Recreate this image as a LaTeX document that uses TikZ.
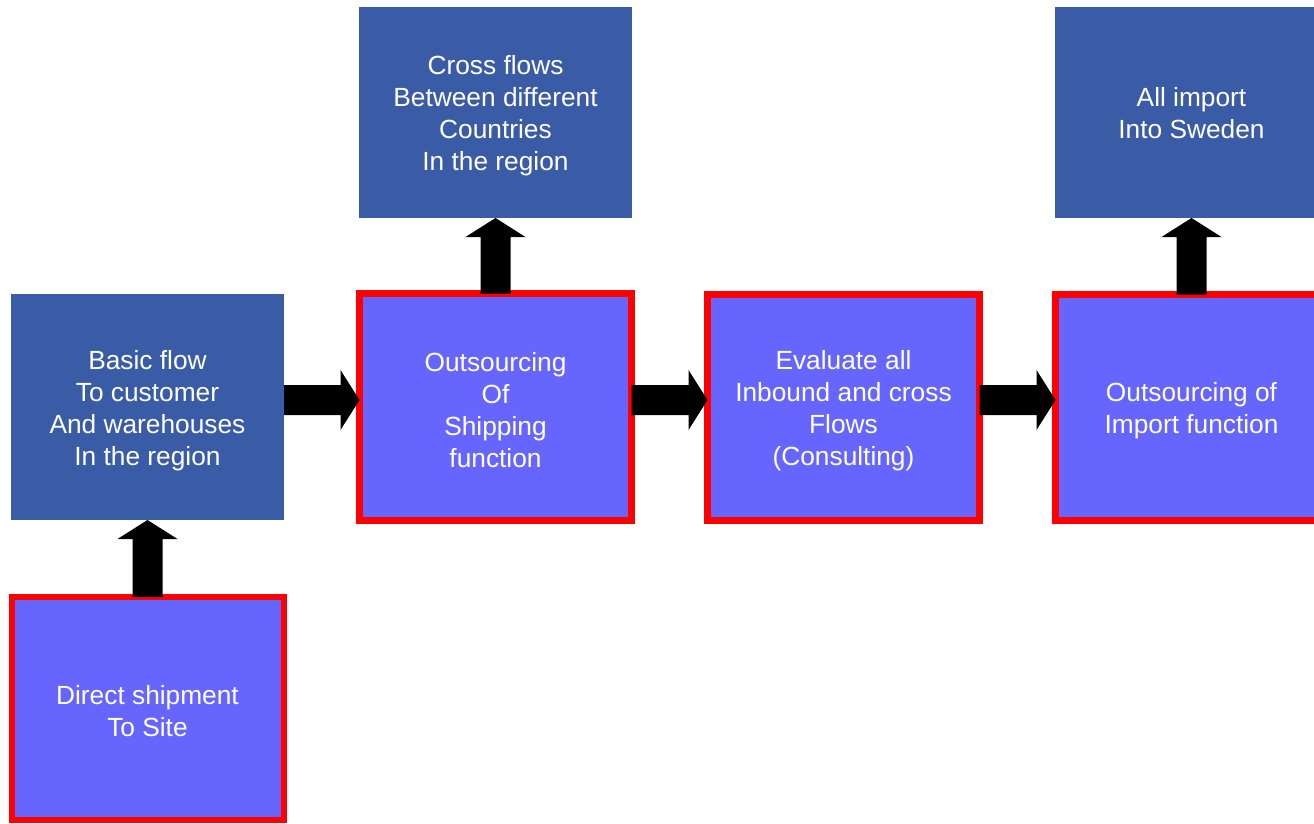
\documentclass[tikz,border=0pt]{standalone}
\usepackage{fontspec}
\setmainfont{Liberation Sans}
\usetikzlibrary{calc}
\definecolor{darkbox}{HTML}{3A5BA5}
\definecolor{lightbox}{HTML}{6666FF}
\definecolor{redline}{HTML}{FF0000}
% block arrow from #1 to #2: 30pt shaft, 60pt wide and 19pt long head
\newcommand\blockarrow[2]{%
  \path ($(#2)!19pt!(#1)$) coordinate (hb);
  \fill[arrowfill]
    ($(#1)!15pt!90:(hb)$) -- ($(hb)!15pt!-90:(#1)$) --
    ($(hb)!30pt!-90:(#1)$) -- (#2) --
    ($(hb)!30pt!90:(#1)$) -- ($(hb)!15pt!90:(#1)$) --
    ($(#1)!15pt!-90:(hb)$) -- cycle;}
\begin{document}
\begin{tikzpicture}[x=1pt,y=-1pt,
  boxbase/.style={inner sep=0pt,outer sep=0pt},
  plainbox/.style={boxbase,fill=darkbox,minimum width=273pt},
  redbox/.style={boxbase,fill=lightbox,draw=redline,line width=7pt,minimum width=272pt},
  boxtext/.style={text=white,align=center,inner sep=0pt,
    font=\fontsize{26.3}{32}\selectfont},
  arrowfill/.style={fill=black}]
\useasboundingbox (0,0) rectangle (1314,823);
\clip (0,0) rectangle (1314,823);

% boxes, top row
\node[plainbox,minimum height=211pt] (cross) at (495.5,112.5) {};
\node[plainbox,minimum height=211pt] (allimport) at (1191.5,112.5) {};
% middle row
\node[plainbox,minimum height=226pt] (basic) at (147.5,407) {};
\node[redbox,minimum height=227pt] (shipping) at (495.5,407) {};
\node[redbox,minimum height=226pt] (evaluate) at (843.5,407.5) {};
\node[redbox,minimum height=226pt] (import) at (1191.5,407.5) {};
% bottom row
\node[redbox,line width=6pt,minimum height=223pt] (direct) at (147.5,708.5) {};

% box labels
\node[boxtext] (cross-t) at ($(cross.center)+(0,3)$)
  {Cross flows\\Between different\\Countries\\In the region};
\node[boxtext] (allimport-t) at ($(allimport.center)+(0,1)$)
  {All import\\Into Sweden};
\node[boxtext] (basic-t) at ($(basic.center)+(0,3.5)$)
  {Basic flow\\To customer\\And warehouses\\In the region};
\node[boxtext] (shipping-t) at ($(shipping.center)+(0,3)$)
  {Outsourcing\\Of\\Shipping\\function};
\node[boxtext] (evaluate-t) at ($(evaluate.center)+(0,3.5)$)
  {Evaluate all\\Inbound and cross\\Flows\\(Consulting)};
\node[boxtext] (import-t) at ($(import.center)+(0,3.5)$)
  {Outsourcing of\\Import function};
\node[boxtext] (direct-t) at ($(direct.center)+(0,3)$)
  {Direct shipment\\To Site};

% block arrows
\coordinate (lane) at (0,400);
\coordinate (a1s) at (basic.east |- lane);
\coordinate (a1e) at (shipping.west |- lane);
\coordinate (a2s) at (shipping.east |- lane);
\coordinate (a2e) at (evaluate.west |- lane);
\coordinate (a3s) at (evaluate.east |- lane);
\coordinate (a3e) at (import.west |- lane);
\blockarrow{a1s}{a1e}
\blockarrow{a2s}{a2e}
\blockarrow{a3s}{a3e}
\blockarrow{direct.north}{basic.south}
\blockarrow{shipping.north}{cross.south}
\blockarrow{import.north}{allimport.south}
\end{tikzpicture}
\end{document}
